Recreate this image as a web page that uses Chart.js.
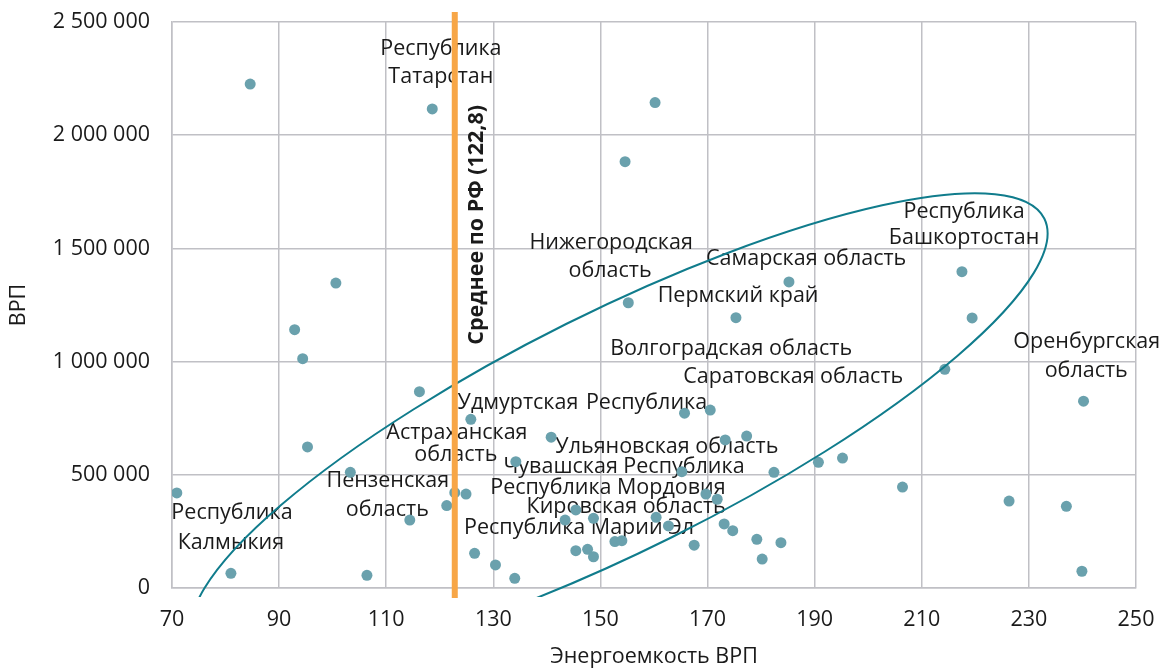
<!DOCTYPE html>
<html lang="ru">
<head>
<meta charset="utf-8">
<title>ВРП и энергоемкость ВРП</title>
<script src="https://cdn.jsdelivr.net/npm/chart.js@4.4.1/dist/chart.umd.min.js"></script>
<style>
    html, body { margin: 0; padding: 0; background: #ffffff; }
</style>
</head>
<body>
<canvas id="chart_vrp" width="1163" height="671"></canvas>
<script>
// энергоемкость ВРП (ось X)
const energyIntensity = [
    70.9, 84.6, 81.0, 92.9, 94.4, 95.3, 100.6, 103.3, 106.4, 118.6,
    154.6, 160.2, 116.2, 114.4, 121.3, 122.8, 124.9, 125.8, 126.5, 130.4,
    134.0, 134.2, 140.8, 143.4, 145.4, 145.4, 147.6, 148.7, 148.7, 152.7,
    154.0, 160.4, 162.7, 167.5, 165.7, 170.5, 173.3, 177.3, 165.2, 169.7,
    171.8, 173.1, 174.7, 179.2, 180.2, 182.4, 183.7, 190.7, 195.2, 206.4,
    214.3, 219.4, 217.5, 226.3, 237.0, 240.2, 239.9, 185.2, 175.3, 155.2,
];
// ВРП (ось Y)
const grp = [
    420000, 2226000, 65000, 1141000, 1013000, 623000, 1347000, 511000, 56000, 2116000,
    1883000, 2144000, 867000, 300000, 364000, 421000, 415000, 745000, 153000, 102000,
    43000, 558000, 666000, 300000, 345000, 165000, 171000, 138000, 308000, 205000,
    209000, 312000, 274000, 189000, 772000, 786000, 654000, 671000, 514000, 415000,
    392000, 283000, 253000, 215000, 128000, 511000, 200000, 555000, 574000, 446000,
    966000, 1193000, 1397000, 384000, 361000, 825000, 74000, 1352000, 1194000, 1260000,
];

const xTickValues = [70, 90, 110, 130, 150, 170, 190, 210, 230, 250];
const yTickValues = [0, 500000, 1000000, 1500000, 2000000, 2500000];

const rfAverage = 122.8;
const averageLabel = 'Среднее по РФ (122,8)';

// подписи регионов: текст и точка привязки (в единицах осей)
const labelTexts = [
    'Республика', 'Татарстан', 'Нижегородская', 'область', 'Самарская область',
    'Пермский край', 'Республика', 'Башкортостан', 'Волгоградская область', 'Саратовская область',
    'Оренбургская', 'область', 'Удмуртская', 'Республика', 'Астраханская',
    'область', 'Ульяновская область', 'Чувашская Республика', 'Пензенская', 'область',
    'Республика Мордовия', 'Кировская область', 'Республика Марий Эл', 'Республика', 'Калмыкия',
];
const labelX = [
    120.2, 120.2, 152.0, 151.8, 188.4,
    175.7, 217.9, 217.9, 174.4, 186.0,
    240.8, 240.7, 134.6, 158.6, 123.2,
    123.0, 162.4, 154.4, 110.3, 110.2,
    151.4, 154.8, 146.0, 81.2, 81.0,
];
const labelY = [
    2381000, 2257000, 1524000, 1400000, 1453000,
    1290000, 1661000, 1546000, 1056000, 932000,
    1087000, 958000, 817000, 817000, 685000,
    587000, 623000, 534000, 473000, 344000,
    442000, 358000, 265000, 331000, 199000,
];

// центр эллипса (в единицах осей)
const ellipseCenter = [153.5, 695700];

function formatThousands(v) {
    return String(v).replace(/\B(?=(\d{3})+(?!\d))/g, ' ');
}

const overlay = {
    id: 'overlay',
    beforeDatasetsDraw(chart) {
        const {ctx, scales: {x, y}} = chart;
        ctx.save();
        ctx.font = '21.5px "Open Sans"';
        ctx.fillStyle = '#1a1a1a';
        ctx.textAlign = 'center';
        ctx.textBaseline = 'middle';
        labelTexts.forEach((t, i) => {
            ctx.fillText(t, x.getPixelForValue(labelX[i]), y.getPixelForValue(labelY[i]));
        });
        ctx.restore();
    },
    afterDatasetsDraw(chart) {
        const {ctx, chartArea, scales: {x, y}} = chart;

        ctx.save();
        ctx.beginPath();
        ctx.rect(chartArea.left, chartArea.top - 12, chartArea.width, chartArea.height + 21);
        ctx.clip();
        ctx.beginPath();
        ctx.ellipse(x.getPixelForValue(ellipseCenter[0]), y.getPixelForValue(ellipseCenter[1]),
            475, 119, -26.5 * Math.PI / 180, 0, 2 * Math.PI);
        ctx.strokeStyle = 'rgb(16, 124, 140)';
        ctx.lineWidth = 2;
        ctx.stroke();
        ctx.restore();

        const ax = x.getPixelForValue(rfAverage);
        ctx.save();
        ctx.strokeStyle = 'rgb(247, 166, 71)';
        ctx.lineWidth = 6;
        ctx.beginPath();
        ctx.moveTo(ax, chartArea.top - 10);
        ctx.lineTo(ax, chartArea.bottom + 10);
        ctx.stroke();
        ctx.translate(ax + 22, y.getPixelForValue(1604000));
        ctx.rotate(-Math.PI / 2);
        ctx.font = 'bold 21.5px "Open Sans"';
        ctx.fillStyle = '#1a1a1a';
        ctx.textAlign = 'center';
        ctx.textBaseline = 'middle';
        ctx.fillText(averageLabel, 0, 0);
        ctx.restore();
    },
};

const gridColor = 'rgb(192, 192, 197)';
const tickFont = {family: 'Open Sans', size: 21.5};

new Chart(document.getElementById('chart_vrp'), {
    type   : 'scatter',
    data   : {
        datasets: [{
            data           : energyIntensity.map((v, i) => ({x: v, y: grp[i]})),
            backgroundColor: 'rgb(106, 161, 173)',
            borderWidth    : 0,
            pointRadius    : 5.5,
        }],
    },
    options: {
        responsive: false,
        animation : false,
        devicePixelRatio: 1,
        layout    : {
            padding: {top: 22, right: 27, left: 0, bottom: 0},
        },
        plugins   : {
            legend : {display: false},
            tooltip: {enabled: false},
        },
        scales    : {
            x: {
                min  : 70,
                max  : 250,
                afterBuildTicks: scale => { scale.ticks = xTickValues.map(v => ({value: v})); },
                afterFit: scale => {
                    scale.height = 83;
                    scale.paddingLeft = 0;
                    scale.paddingRight = 0;
                },
                grid : {color: gridColor, lineWidth: 1.5, drawTicks: false},
                border: {color: gridColor, width: 1.5},
                ticks: {color: '#1a1a1a', font: tickFont, padding: 19, maxRotation: 0},
                title: {
                    display: true,
                    text   : 'Энергоемкость ВРП',
                    color  : '#1a1a1a',
                    font   : {family: 'Open Sans', size: 21.5},
                    padding: {top: 0, bottom: 1},
                },
            },
            y: {
                min  : 0,
                max  : 2500000,
                afterBuildTicks: scale => { scale.ticks = yTickValues.map(v => ({value: v})); },
                afterFit: scale => {
                    scale.width = 172;
                    scale.paddingTop = 0;
                    scale.paddingBottom = 0;
                },
                grid : {color: gridColor, lineWidth: 1.5, drawTicks: false},
                border: {color: gridColor, width: 1.5},
                ticks: {color: '#1a1a1a', font: tickFont, padding: 22, callback: v => formatThousands(v)},
                title: {
                    display: true,
                    text   : 'ВРП',
                    color  : '#1a1a1a',
                    font   : {family: 'Open Sans', size: 21.5},
                    padding: {top: 6, bottom: 0},
                },
            },
        },
    },
    plugins: [overlay],
});
</script>
</body>
</html>
